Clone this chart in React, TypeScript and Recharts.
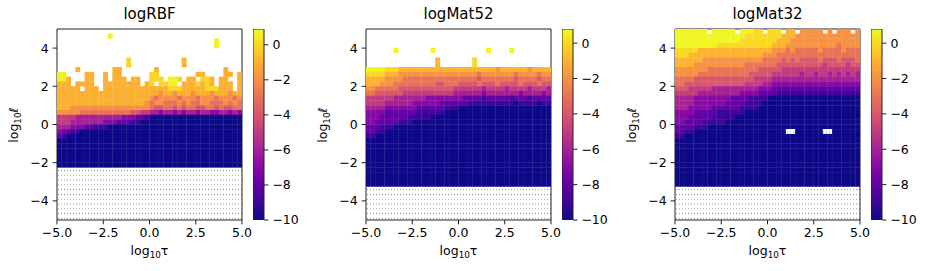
import { ScatterChart, Scatter, XAxis, YAxis, ReferenceArea, BarChart, Bar } from "recharts";

// encoded grids: one char per 0.25 x 0.25 cell, rows from log10 l = 5 downwards
// "." = no value (white), "h" = hatched hole, digits/letters = log value (see LEVELS)
const LEVELS: Record<string, number> = {
  "0": -10, "1": -9, "2": -8, "3": -7, "4": -6, "5": -5,
  "6": -4, "7": -3, "8": -2, "9": -1, a: 0, b: 0.7,
};

const TITLES = ["logRBF", "logMat52", "logMat32"];
const CB_MAX = [0.9, 0.8, 0.8];
const CB_MIN = -10;
const HATCH_TOP = [-2.25, -3.25, -3.25];
const X_TICKS = [-5, -2.5, 0, 2.5, 5];
const Y_TICKS = [-4, -2, 0, 2, 4];
const CB_TICKS = [-10, -8, -6, -4, -2, 0];

const GRID_RBF = [
  ".......... .......... .......... ..........",
  ".......... .b........ .......... ..........",
  ".......... .......... .......... ....b.....",
  ".......... .......... .......... ....b.....",
  ".......... .......... .......... ..........",
  ".......... .......... .......... ..........",
  ".......... .....a.... .......9.. ..........",
  ".......... .....a.... .......9.. ..........",
  "....9..... ..99...... .9........ ......9...",
  "bb....99.. 9.99...... aa........ 99....99.9",
  "bb9...99.. 9.999.99.. aaa.bba.99 .aa9.99..9",
  "999.9999.. 99999999.9 a.aabb.999 a9a9.999.9",
  "99999.999. 9999999999 9999aaa999 99aaa999.9",
  "9999999999 9999999999 9989989998 9998999899",
  "9999999999 9999999999 8788887888 7888788878",
  "9999999999 9999999998 7887778787 7887778787",
  "9998888888 8888888888 7667767677 6677676677",
  "8888877777 7777776655 4434434344 3443344343",
  "5555444444 4444333221 0000000000 0000000000",
  "5554444444 3332221100 0000000000 0000000000",
  "4443332211 1000000000 0000000000 0000000000",
  "3221100000 0000000000 0000000000 0000000000",
  "2100000000 0000000000 0000000000 0000000000",
  "0000000000 0000000000 0000000000 0000000000",
  "0000000000 0000000000 0000000000 0000000000",
  "0000000000 0000000000 0000000000 0000000000",
  "0000000000 0000000000 0000000000 0000000000",
  "0000000000 0000000000 0000000000 0000000000",
  "0000000000 0000000000 0000000000 0000000000",
];

const GRID_MAT52 = [
  ".......... .......... .......... ..........",
  ".......... .......... .......... ..........",
  ".......... .......... .......... ..........",
  ".......... .......... .......... ..........",
  "......b... ....b..... ......b... .b........",
  ".......... .......... .......... ..........",
  ".......... .....9.... ...a...... ..........",
  ".......... .....9.... ...a...... ..........",
  "bbbbaaa999 9999999999 9999999989 9999989999",
  "aaaa999888 8888888888 8888788888 8878888788",
  "9999888877 7777777777 7777677777 7767777677",
  "9998887777 7777766777 6666766676 6667666766",
  "8877777666 6666666665 5555545555 4555545554",
  "7766666655 5555555554 4444434444 4443444434",
  "5555554444 4443333333 3222212222 2122212222",
  "5555444444 3333332222 2211111111 1101111011",
  "4444333333 3222222111 0000000000 0000000000",
  "3333222222 2111111000 0000000000 0000000000",
  "3332222221 1111000000 0000000000 0000000000",
  "3322222111 0000000000 0000000000 0000000000",
  "2221110000 0000000000 0000000000 0000000000",
  "2211000000 0000000000 0000000000 0000000000",
  "1100000000 0000000000 0000000000 0000000000",
  "0000000000 0000000000 0000000000 0000000000",
  "0000000000 0000000000 0000000000 0000000000",
  "0000000000 0000000000 0000000000 0000000000",
  "0000000000 0000000000 0000000000 0000000000",
  "0000000000 0000000000 0000000000 0000000000",
  "0000000000 0000000000 0000000000 0000000000",
  "0000000000 0000000000 0000000000 0000000000",
  "0000000000 0000000000 0000000000 0000000000",
  "0000000000 0000000000 0000000000 0000000000",
  "0000000000 0000000000 0000000000 0000000000",
];

const GRID_MAT32 = [
  "bbbbbbb.bb bbb.bbbaa. aaa.99.888 88.8.888.8",
  "bbbbbbbbbb bbbbbaaaaa aaa9998888 8888888888",
  "bbbbbbbbbb bbbbaaaaaa aa99988888 8888888888",
  "bbbbbbbbba aaaaaaaaaa a999888888 8888878888",
  "aaaaa99999 9999999999 9888787777 7877778777",
  "aaa9999999 9999999998 8877777777 7777777777",
  "9999998888 8888888887 7776767666 6766676667",
  "9999888888 8888877777 7766666666 6656666566",
  "8888888777 7777777766 6665555555 5555555555",
  "8888877777 7777776666 6555555455 4554545454",
  "7777666666 6666666555 5444444444 4444444444",
  "7766666666 6666655554 4333333333 3333333333",
  "6665555544 4444444433 3222222222 2222222222",
  "5555544444 4444333322 2211111111 1111111111",
  "4444333333 3322221111 0000000000 0000000000",
  "4444333333 3222211110 0000000000 0000000000",
  "4443333322 2222111100 0000000000 0000000000",
  "3333222221 1111100000 0000000000 0000000000",
  "3332222211 1110000000 0000000000 0000000000",
  "3322221111 1000000000 0000000000 0000000000",
  "2222111000 0000000000 0000000000 0000000000",
  "2211000000 0000000000 0000hh0000 00hh000000",
  "1100000000 0000000000 0000000000 0000000000",
  "0000000000 0000000000 0000000000 0000000000",
  "0000000000 0000000000 0000000000 0000000000",
  "0000000000 0000000000 0000000000 0000000000",
  "0000000000 0000000000 0000000000 0000000000",
  "0000000000 0000000000 0000000000 0000000000",
  "0000000000 0000000000 0000000000 0000000000",
  "0000000000 0000000000 0000000000 0000000000",
  "0000000000 0000000000 0000000000 0000000000",
  "0000000000 0000000000 0000000000 0000000000",
  "0000000000 0000000000 0000000000 0000000000",
];

const GRIDS = [GRID_RBF, GRID_MAT52, GRID_MAT32];

const PLASMA = [
  "#0d0887", "#41049d", "#6a00a8", "#8f0da4", "#b12a90", "#cc4778",
  "#e16462", "#f2844b", "#fca636", "#fcce25", "#f0f921",
];

const FONT = "DejaVu Sans, sans-serif";
const STEP = 0.25;
const NCOL = 40;
const PLOT_W = 185;
const PLOT_H = 191;
const PANEL_DX = 309;

function plasma(t: number) {
  const s = Math.max(0, Math.min(1, t)) * (PLASMA.length - 1);
  const i = Math.min(Math.floor(s), PLASMA.length - 2);
  const f = s - i;
  const a = PLASMA[i], b = PLASMA[i + 1];
  const ch = (h: string, k: number) => parseInt(h.slice(1 + 2 * k, 3 + 2 * k), 16);
  const mix = [0, 1, 2].map((k) => Math.round(ch(a, k) + (ch(b, k) - ch(a, k)) * f));
  return `rgb(${mix[0]},${mix[1]},${mix[2]})`;
}

function buildCells(rows: string[], vmax: number) {
  const out: { x: number; y: number; fill: string }[] = [];
  rows.forEach((row, r) => {
    const chars = row.replace(/ /g, "");
    for (let c = 0; c < chars.length; c++) {
      const k = chars[c];
      if (k === ".") continue;
      out.push({
        x: -5 + STEP * (c + 0.5),
        y: 5 - STEP * (r + 0.5),
        fill: k === "h" ? "url(#hatch)" : plasma((LEVELS[k] - CB_MIN) / (vmax - CB_MIN)),
      });
    }
  });
  return out;
}

const minus = (s: string) => s.replace("-", "\u2212");
const fmtX = (v: number) => minus(v.toFixed(1));
const fmtY = (v: number) => minus(String(v));

const cellW = PLOT_W / NCOL + 0.3;
const cellH = (PLOT_H / 10) * STEP + 0.3;

const renderCell = (props: any) => {
  const { cx, cy, payload } = props;
  if (cx == null || cy == null) return <g />;
  return (
    <rect x={cx - cellW / 2} y={cy - cellH / 2} width={cellW} height={cellH} fill={payload.fill} />
  );
};

const tickStyle = { fontSize: 12.5, fill: "#000", fontFamily: FONT };

function Panel({ i }: { i: number }) {
  const cells = buildCells(GRIDS[i], CB_MAX[i]);
  const left = i * PANEL_DX;
  return (
    <>
      <div
        style={{
          position: "absolute", left: left + 57, top: 5, width: PLOT_W,
          textAlign: "center", fontSize: 15, fontFamily: FONT, color: "#000",
        }}
      >
        {TITLES[i]}
      </div>
      <div style={{ position: "absolute", left, top: 0 }}>
        <ScatterChart width={262} height={271} margin={{ top: 29, right: 20, bottom: 11, left: 12 }}>
          <XAxis
            dataKey="x" type="number" domain={[-5, 5]} ticks={X_TICKS} interval={0}
            allowDataOverflow tickFormatter={fmtX} height={40} tickSize={4.4} tickMargin={4}
            axisLine={false} tickLine={{ stroke: "#222" }} tick={tickStyle}
          />
          <YAxis
            dataKey="y" type="number" domain={[-5, 5]} ticks={Y_TICKS} interval={0}
            allowDataOverflow tickFormatter={fmtY} width={45} tickSize={4.4} tickMargin={4}
            axisLine={false} tickLine={{ stroke: "#222" }} tick={tickStyle}
          />
          <Scatter data={cells} shape={renderCell} isAnimationActive={false} />
          <ReferenceArea x1={-5} x2={5} y1={-5} y2={HATCH_TOP[i]} fill="url(#hatch)" fillOpacity={1} stroke="none" />
          <ReferenceArea x1={-5} x2={5} y1={-5} y2={5} fill="none" stroke="#222" strokeWidth={1} />
        </ScatterChart>
      </div>
      <div
        style={{
          position: "absolute", left: left + 57, top: 243, width: PLOT_W,
          textAlign: "center", fontSize: 12.5, fontFamily: FONT, color: "#000",
        }}
      >
        log<span style={{ fontSize: 8.8, position: "relative", top: 3 }}>10</span>τ
      </div>
      <div
        style={{
          position: "absolute", left: left + 13, top: 124.5, fontSize: 12.5, fontFamily: FONT,
          color: "#000", whiteSpace: "nowrap", transform: "translate(-50%, -50%) rotate(-90deg)",
        }}
      >
        log<span style={{ fontSize: 8.8, position: "relative", top: 3 }}>10</span>ℓ
      </div>
      <div style={{ position: "absolute", left: left + 253, top: 0 }}>
        <BarChart
          width={51} height={271} data={[{ name: "cb", range: [CB_MIN, CB_MAX[i]] }]}
          margin={{ top: 29, right: 0, bottom: 51, left: 0 }} barCategoryGap={0}
        >
          <XAxis dataKey="name" hide />
          <YAxis
            orientation="right" type="number" domain={[CB_MIN, CB_MAX[i]]} ticks={CB_TICKS} interval={0}
            allowDataOverflow tickFormatter={fmtY} width={40} tickSize={4.4} tickMargin={4}
            axisLine={false} tickLine={{ stroke: "#222" }} tick={tickStyle}
          />
          <Bar dataKey="range" fill="url(#plasma)" stroke="#222" strokeWidth={1} isAnimationActive={false} />
        </BarChart>
      </div>
    </>
  );
}

export default function App() {
  return (
    <div style={{ position: "absolute", left: 0, top: 0, width: 927, height: 271, background: "#fff" }}>
      <svg width={0} height={0} style={{ position: "absolute" }}>
        <defs>
          <pattern id="hatch" patternUnits="userSpaceOnUse" width={3} height={4.8}>
            <rect width={3} height={4.8} fill="#fff" />
            <rect x={1} y={2} width={1} height={0.9} fill="#8a8a8a" />
          </pattern>
          <linearGradient id="plasma" x1="0" y1="1" x2="0" y2="0">
            {PLASMA.map((c, k) => (
              <stop key={k} offset={k / (PLASMA.length - 1)} stopColor={c} />
            ))}
          </linearGradient>
        </defs>
      </svg>
      {[0, 1, 2].map((i) => (
        <Panel key={i} i={i} />
      ))}
    </div>
  );
}
